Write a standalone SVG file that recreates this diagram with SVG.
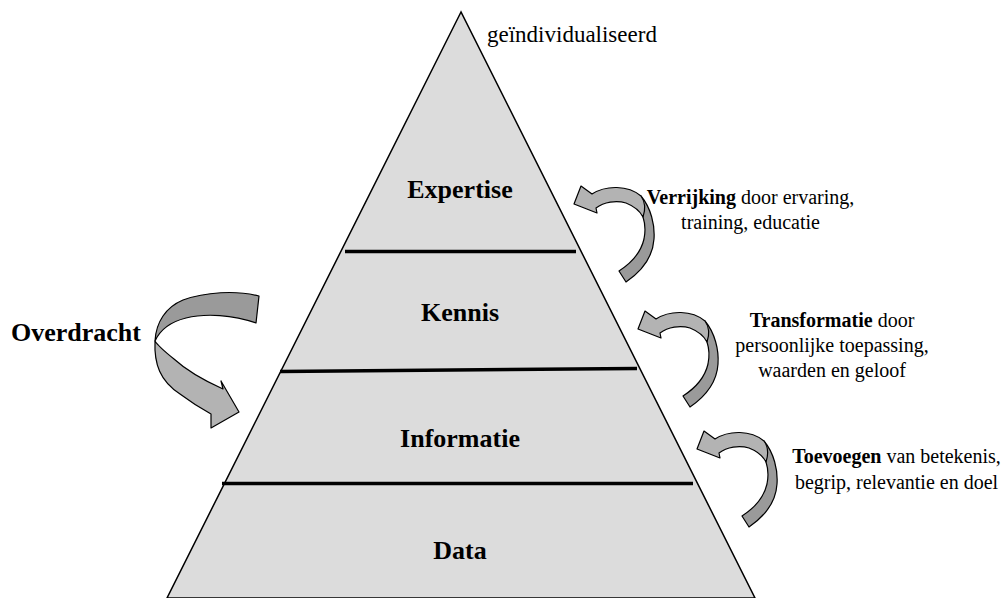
<svg xmlns="http://www.w3.org/2000/svg" width="1003" height="598" viewBox="0 0 1003 598">
<style>
.lbl{font-family:"Liberation Serif","Times New Roman",serif;font-weight:bold;font-size:26px;fill:#000;text-anchor:middle}
.txt{font-family:"Liberation Serif","Times New Roman",serif;font-size:20px;fill:#000;text-anchor:middle}
.div{stroke:#000;stroke-width:3.5;fill:none}
.arL{fill:#b3b3b3;stroke:#000;stroke-width:1.2;stroke-linejoin:round}
.arD{fill:#9a9a9a;stroke:#000;stroke-width:1.2;stroke-linejoin:round}
</style>
<defs>
<g id="rarrow">
<path class="arD" d="M705,321 C715,333 719,350 718,364 C717,380 709,394 690,407 L683,396 C697,387 705,377 708,364 C710,354 709,348 707,342 C706,334 707,328 705,321 Z"/>
<path class="arL" d="M638,329 L645,311 L656,319 C670,310 692,310 705,321 C710,328 709,336 707,342 C704,336 700,332 690,328 C680,325 668,327 660,333 L661,338 Z"/>
</g>
</defs>
<rect width="1003" height="598" fill="#fff"/>
<g id="pyramid">
<path d="M461,12 L167,598 L755,598 Z" fill="#dcdcdc" stroke="#000" stroke-width="1.5" stroke-linejoin="miter"/>
</g>
<g id="dividers">
<line class="div" x1="345" y1="251.5" x2="576" y2="251.5"/>
<line class="div" x1="280" y1="371.5" x2="637" y2="368.5"/>
<line class="div" x1="222" y1="483.5" x2="693" y2="483.5"/>
</g>
<g id="expertise"><text class="lbl" x="460" y="198">Expertise</text></g>
<g id="kennis"><text class="lbl" x="460" y="321">Kennis</text></g>
<g id="informatie"><text class="lbl" x="460" y="447">Informatie</text></g>
<g id="data"><text class="lbl" x="460" y="559">Data</text></g>
<g id="top-label"><text class="txt" x="487" y="42" style="text-anchor:start;font-size:23px">geïndividualiseerd</text></g>
<g id="overdracht"><text class="lbl" x="76" y="341">Overdracht</text></g>
<g id="connectors">
<path class="arD" d="M259,296 C236,290 205,292 183,300 C166,307 156,322 155,341 C160,330 170,322 186,318 C206,313 233,315 256,323 Z"/>
<path class="arL" d="M155,341 C154,364 160,381 180,394 C192,403 202,409 211,414 L211,428 L239,412 L221,381 L223,389 C203,380 186,370 174,359 C164,351 158,346 155,341 Z"/>
<use href="#rarrow" transform="translate(-64,-125)"/>
<use href="#rarrow"/>
<use href="#rarrow" transform="translate(59,120)"/>
</g>
<g id="verrijking">
<text class="txt" x="750.5" y="204"><tspan font-weight="bold">Verrijking</tspan> door ervaring,</text>
<text class="txt" x="750.5" y="229">training, educatie</text>
</g>
<g id="transformatie">
<text class="txt" x="832" y="327"><tspan font-weight="bold">Transformatie</tspan> door</text>
<text class="txt" x="832" y="352">persoonlijke toepassing,</text>
<text class="txt" x="832" y="377">waarden en geloof</text>
</g>
<g id="toevoegen">
<text class="txt" x="896.5" y="463"><tspan font-weight="bold">Toevoegen</tspan> van betekenis,</text>
<text class="txt" x="896.5" y="489">begrip, relevantie en doel</text>
</g>
</svg>
